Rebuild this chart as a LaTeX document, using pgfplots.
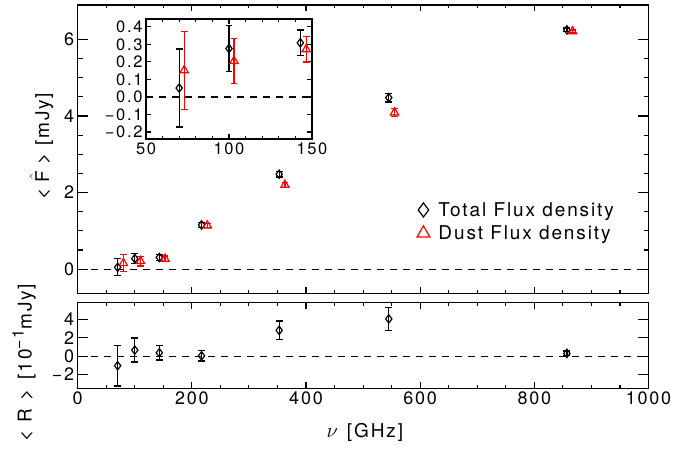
\documentclass[border=0pt]{standalone}
\usepackage{fontspec}
\setmainfont{TeX Gyre Heros}[LetterSpace=10]
\usepackage{pgfplots}
\usepackage{pgfplotstable}
\pgfplotsset{compat=1.18}

\pgfplotstableread{
x y e
70 0.05 0.22
100 0.275 0.13
143 0.305 0.075
217 1.155 0.06
353 2.48 0.07
545 4.48 0.11
857 6.25 0.05
}\totalmain
\pgfplotstableread{
x y e
80 0.155 0.22
110 0.21 0.13
153 0.27 0.075
227 1.14 0.05
363 2.20 0.06
555 4.09 0.11
867 6.21 0.04
}\dustmain
\pgfplotstableread{
x y e
70 0.051 0.222
100 0.276 0.13
143 0.309 0.073
}\totalinset
\pgfplotstableread{
x y e
73 0.152 0.222
103 0.205 0.13
146.5 0.272 0.073
}\dustinset
\pgfplotstableread{
x y e
70 -1.05 2.2
100 0.65 1.3
143 0.36 0.77
217 0.03 0.55
353 2.8 1.02
545 4.04 1.27
857 0.29 0.25
}\resid

\pgfplotsset{
  myaxis/.style={
    scale only axis,
    anchor=south west,
    axis line style={line width=1.3bp},
    every tick/.style={black, line width=1.1bp},
    tick label style={font=\fontsize{18bp}{21bp}\selectfont},
    label style={font=\fontsize{19bp}{22bp}\selectfont},
    /pgf/number format/assume math mode=true,
    /pgf/number format/1000 sep={},
    clip=false,
  },
  tot/.style={black, only marks, mark=diamond, mark size=4.2bp, line width=1.2bp,
    error bars/y dir=both, error bars/y explicit,
    error bars/error bar style={line width=1.3bp, black},
    error bars/error mark options={mark size=3.4bp, line width=1.3bp, black, rotate=90}},
  dst/.style={red, only marks, mark=triangle, mark size=4.8bp, line width=1.2bp,
    error bars/y dir=both, error bars/y explicit,
    error bars/error bar style={line width=1.3bp, red},
    error bars/error mark options={mark size=3.4bp, line width=1.3bp, red, rotate=90}},
  zer/.style={black, line width=1.1bp, dash pattern=on 7bp off 6bp},
}

\begin{document}
\begin{tikzpicture}
% main panel
\begin{axis}[myaxis,
  at={(77.7bp,156.7bp)}, width=570.8bp, height=288.3bp,
  xmin=0, xmax=1000, ymin=-0.63, ymax=6.9,
  xtick={0,200,...,1000}, minor x tick num=3, xticklabels={},
  ytick={0,2,4,6}, minor y tick num=3,
  major tick length=10.5bp, minor tick length=5bp,
  xtick style={/pgfplots/major tick length=6bp, /pgfplots/minor tick length=3.5bp},
  ylabel={<\hspace{6bp}$\hat{\mbox{F}}$\hspace{6bp}>\hspace{8bp}[mJy]},
  ylabel style={at={(axis description cs:-0.0634,0.51)}, anchor=center},
  legend style={at={(axis description cs:0.594,0.325)}, anchor=north west,
    draw=none, fill=none, inner sep=0pt, row sep=3bp,
    font=\fontsize{19bp}{22bp}\selectfont,
    nodes={inner sep=2.5bp},
    /tikz/every odd column/.append style={column sep=6bp}},
  legend cell align=left,
]
\addlegendimage{only marks, mark=diamond, mark size=7bp, black, line width=1.2bp}
\addlegendentry{Total Flux density}
\addlegendimage{only marks, mark=triangle, mark size=7.5bp, red, line width=1.2bp}
\addlegendentry{Dust Flux density}
\addplot[forget plot, zer] coordinates {(0,0) (1000,0)};
\addplot[forget plot, tot] table[x=x, y=y, y error=e] {\totalmain};
\addplot[forget plot, dst] table[x=x, y=y, y error=e] {\dustmain};
\end{axis}
% residual panel
\begin{axis}[myaxis,
  at={(77.7bp,61.7bp)}, width=570.8bp, height=85.6bp,
  xmin=0, xmax=1000, ymin=-3.5, ymax=5.8,
  xtick={0,200,...,1000}, minor x tick num=3,
  ytick={-2,0,2,4}, yticklabels={−2,0,2,4},
  major tick length=10.5bp, minor tick length=5bp,
  xtick style={/pgfplots/major tick length=6bp, /pgfplots/minor tick length=3.5bp},
  xlabel={$\nu$\hspace{9bp}[GHz]},
  xlabel style={at={(axis description cs:0.503,-0.52)}, anchor=center},
  ylabel={<\hspace{8bp}R\hspace{8bp}>\hspace{10bp}[10\raisebox{0.42em}{\fontsize{16bp}{18bp}\selectfont −1}mJy]},
  ylabel style={at={(axis description cs:-0.094,0.30)}, anchor=center},
]
\addplot[zer] coordinates {(0,0) (1000,0)};
\addplot[tot] table[x=x, y=y, y error=e] {\resid};
\end{axis}
% inset
\begin{axis}[myaxis,
  at={(146bp,311bp)}, width=166bp, height=120bp,
  axis background/.style={fill=white},
  xmin=50, xmax=150, ymin=-0.24, ymax=0.445,
  xtick={50,100,150}, minor x tick num=4,
  ytick={-0.2,-0.1,0,0.1,0.2,0.3,0.4},
  yticklabels={−0.2,−0.1,0.0,0.1,0.2,0.3,0.4},
  major tick length=5bp, minor tick length=3bp,
  tick label style={font=\fontsize{16.5bp}{19bp}\selectfont},
]
\addplot[zer] coordinates {(50,0) (150,0)};
\addplot[tot] table[x=x, y=y, y error=e] {\totalinset};
\addplot[dst] table[x=x, y=y, y error=e] {\dustinset};
\end{axis}
\pgfresetboundingbox
\path (0,0) rectangle (673bp,450bp);
\end{tikzpicture}
\end{document}
